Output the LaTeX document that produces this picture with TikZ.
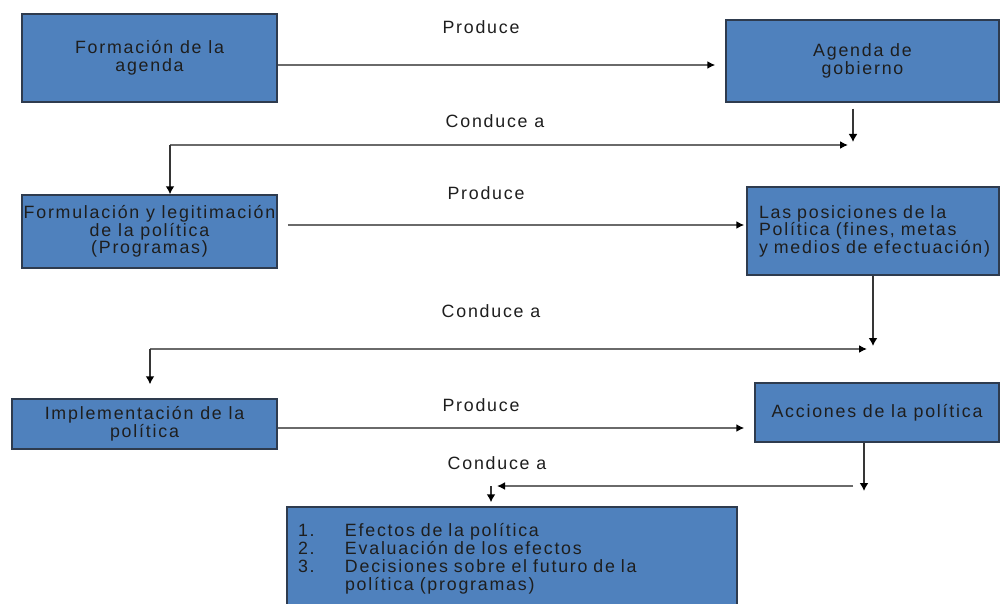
\documentclass[tikz,border=0pt]{standalone}
\usepackage{fontspec}
\setmainfont{Liberation Sans}[LetterSpace=10]
\usetikzlibrary{arrows.meta}
\definecolor{boxfill}{HTML}{4F81BD}
\definecolor{boxline}{HTML}{2E3B4E}
\definecolor{hline}{HTML}{6A6A6A}
\definecolor{vline}{HTML}{363636}
\definecolor{txt}{HTML}{1E1E1E}
\tikzset{
  blk/.style={draw=boxline, fill=boxfill, line width=1.5pt, inner sep=0pt, align=center,
    text=txt, font=\fontsize{17.8}{17.5}\selectfont},
  lbl/.style={inner sep=0pt, text=txt, font=\fontsize{17.8}{17.5}\selectfont},
  hconn/.style={draw=hline, line width=1.7pt, -{Latex[length=8pt,width=8pt,black]}},
  vconn/.style={draw=vline, line width=2.2pt, -{Latex[length=8pt,width=9pt,black]}},
}
\begin{document}
\begin{tikzpicture}[x=1pt,y=-1pt]
\useasboundingbox (0,0) rectangle (1000,604);
\clip (0,0) rectangle (1000,604);
\fill[white] (0,0) rectangle (1000,604);
% boxes
\node[blk, minimum width=255pt, minimum height=88pt] (b1) at (149.5,58) {Formación de la\\agenda};
\node[blk, minimum width=273pt, minimum height=82pt] (b2) at (862.5,61) {Agenda de\\gobierno};
\node[blk, minimum width=255pt, minimum height=73pt] (b3) at (149.5,231.5) {Formulación y legitimación\\de la política\\(Programas)};
\node[blk, minimum width=252pt, minimum height=88pt, align=left, text width=228pt, inner xsep=12pt] (b4) at (873,231) {Las posiciones de la\\Política (fines, metas\\y medios de efectuación)};
\node[blk, minimum width=265pt, minimum height=50pt] (b5) at (144.5,424) {Implementación de la\\política};
\node[blk, minimum width=244pt, minimum height=59pt] (b6) at (877,412.5) {Acciones de la política};
\node[blk, minimum width=450pt, minimum height=103pt, align=left, text width=428pt, inner xsep=11pt,
  font=\fontsize{17.8}{18}\selectfont] (b7) at (512,558.5)
  {\makebox[47pt][l]{1.}Efectos de la política\\
   \makebox[47pt][l]{2.}Evaluación de los efectos\\
   \makebox[47pt][l]{3.}Decisiones sobre el futuro de la\\
   \hspace*{47pt}política (programas)};
% labels
\node[lbl] (l1) at (481,27) {Produce};
\node[lbl] (l2) at (495,121) {Conduce a};
\node[lbl] (l3) at (486,193) {Produce};
\node[lbl] (l4) at (491,311) {Conduce a};
\node[lbl] (l5) at (481,405) {Produce};
\node[lbl] (l6) at (497,463) {Conduce a};
% corner coordinates
\coordinate (k1) at (853,145);
\coordinate (k2) at (170,145);
\coordinate (k3) at (873,349);
\coordinate (k4) at (150,349);
\coordinate (k5) at (864,486);
\coordinate (k6) at (491,486);
% produce connectors
\draw[hconn, shorten >=10pt] (b1.east |- 0,65) -- (b2.west |- 0,65);
\draw[hconn, shorten >=2pt] ([xshift=10pt]b3.east |- 0,225) -- (b4.west |- 0,225);
\draw[hconn, shorten >=10pt] (b5.east |- 0,428) -- (b6.west |- 0,428);
% conduce a (1)
\draw[vconn, shorten <=6pt, shorten >=3pt] (b2.south -| k1) -- (k1);
\draw[hconn, shorten >=5pt] (k2) -- (k1);
\draw[vconn] (k2) -- (b3.north -| k2);
% conduce a (2)
\draw[vconn, shorten >=3pt] (b4.south -| k3) -- (k3);
\draw[hconn, shorten >=6pt] (k4) -- (k3);
\draw[vconn, shorten >=14pt] (k4) -- (b5.north -| k4);
% conduce a (3)
\draw[vconn, shorten >=-5pt] (b6.south -| k5) -- (k5);
\draw[hconn, shorten <=11pt, shorten >=6pt] (k5) -- (k6);
\draw[vconn, shorten >=4pt] (k6) -- (b7.north -| k6);
\end{tikzpicture}
\end{document}
